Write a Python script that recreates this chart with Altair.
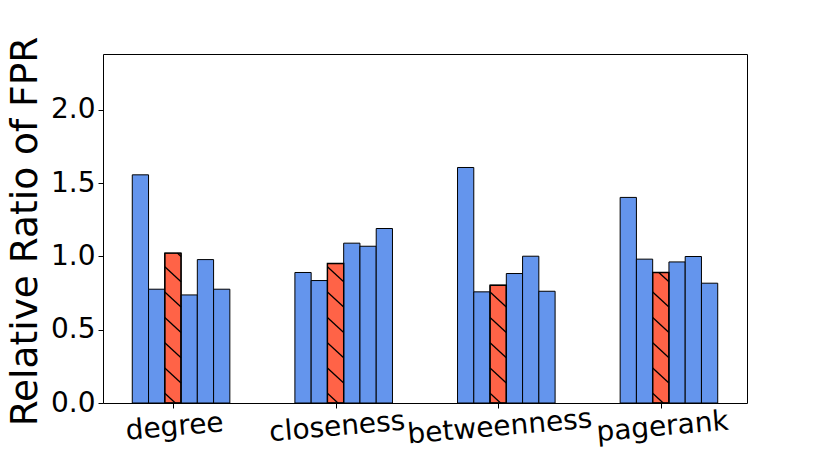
import altair as alt
import pandas as pd

metrics = ["degree", "closeness", "betweenness", "pagerank"]
degree = [1.556, 0.776, 1.022, 0.737, 0.978, 0.776]
closeness = [0.890, 0.835, 0.951, 1.090, 1.069, 1.190]
betweenness = [1.606, 0.758, 0.803, 0.883, 1.001, 0.762]
pagerank = [1.402, 0.981, 0.890, 0.962, 0.999, 0.817]
highlight = 2  # index of the hatched red bar in each group
y_ticks = [0.0, 0.5, 1.0, 1.5, 2.0]

BAR_W = 0.1
Y_MAX = 2.38
PLOT_W, PLOT_H = 644, 349
PX_PER_Y = PLOT_H / Y_MAX
HATCH_STEP = 25.3 / PX_PER_Y
HATCH_PHASE = 9.7 / PX_PER_Y
HATCH_DROP = 15.0 / PX_PER_Y

rows, hatch = [], []
for g, (name, vals) in enumerate(zip(metrics, [degree, closeness, betweenness, pagerank])):
    for i, v in enumerate(vals):
        x0 = g + (i - highlight - 0.5) * BAR_W
        x1 = x0 + BAR_W
        kind = "hl" if i == highlight else "base"
        rows.append({"metric": name, "x0": x0, "x1": x1, "v": v, "kind": kind})
        if kind == "hl":
            k = 0
            while True:
                yl = HATCH_PHASE + k * HATCH_STEP
                if yl - HATCH_DROP > v:
                    break
                t0 = max(0.0, (yl - v) / HATCH_DROP)
                t1 = min(1.0, yl / HATCH_DROP)
                if t1 > t0:
                    hatch.append({
                        "hx0": x0 + t0 * BAR_W, "hx1": x0 + t1 * BAR_W,
                        "hy0": yl - t0 * HATCH_DROP, "hy1": yl - t1 * HATCH_DROP,
                    })
                k += 1

df = pd.DataFrame(rows)
hdf = pd.DataFrame(hatch)

FONT = "DejaVu Sans"
xscale = alt.Scale(domain=[-0.43, 3.53], nice=False, zero=False)
yscale = alt.Scale(domain=[0, Y_MAX], nice=False)

label_expr = "[" + ",".join("'%s'" % m for m in metrics) + "][datum.value]"

bars = alt.Chart(df).mark_bar(stroke="black", strokeWidth=1).encode(
    x=alt.X("x0:Q", scale=xscale, title="",
            axis=alt.Axis(values=[0, 1, 2, 3], labelExpr=label_expr, labelAngle=355,
                          labelAlign="center", labelBaseline="top", labelFontSize=28,
                          labelFont=FONT, labelColor="black", labelPadding=5, labelLimit=400,
                          labelOverlap=False,
                          tickSize=5, tickColor="black", tickWidth=1, domain=False,
                          grid=False)),
    x2="x1:Q",
    y=alt.Y("v:Q", scale=yscale, title="Relative Ratio of FPR",
            axis=alt.Axis(values=y_ticks, format=".1f", labelFontSize=28, labelFont=FONT,
                          labelColor="black", labelPadding=3, tickSize=5, tickColor="black",
                          tickWidth=1, domain=False, grid=False,
                          titleFont=FONT, titleFontSize=37.5, titleFontWeight="normal",
                          titleColor="black", titleAngle=270, titleAlign="center",
                          titleBaseline="alphabetic", titleX=-67, titleY=177)),
    y2=alt.datum(0),
    color=alt.Color("kind:N", scale=alt.Scale(domain=["base", "hl"], range=["#6495ED", "#FF6347"]),
                    legend=None),
)

red_outline = alt.Chart(df).transform_filter(alt.datum.kind == "hl").mark_bar(
    fill="transparent", stroke="black", strokeWidth=1.4
).encode(
    x=alt.X("x0:Q", scale=xscale),
    x2="x1:Q",
    y=alt.Y("v:Q", scale=yscale),
    y2=alt.datum(0),
)

hatch_layer = alt.Chart(hdf).mark_rule(color="black", strokeWidth=1.3).encode(
    x=alt.X("hx0:Q", scale=xscale),
    x2="hx1:Q",
    y=alt.Y("hy0:Q", scale=yscale),
    y2="hy1:Q",
)

chart = alt.layer(bars, hatch_layer, red_outline).properties(
    width=PLOT_W, height=PLOT_H,
    autosize=alt.AutoSizeParams(type="none"),
    padding={"left": 95, "top": 46, "right": 75, "bottom": 50},
    background="white",
).configure_view(stroke="black", strokeWidth=1)

chart.save("out.html", embed_options={"renderer": "svg", "actions": False})
